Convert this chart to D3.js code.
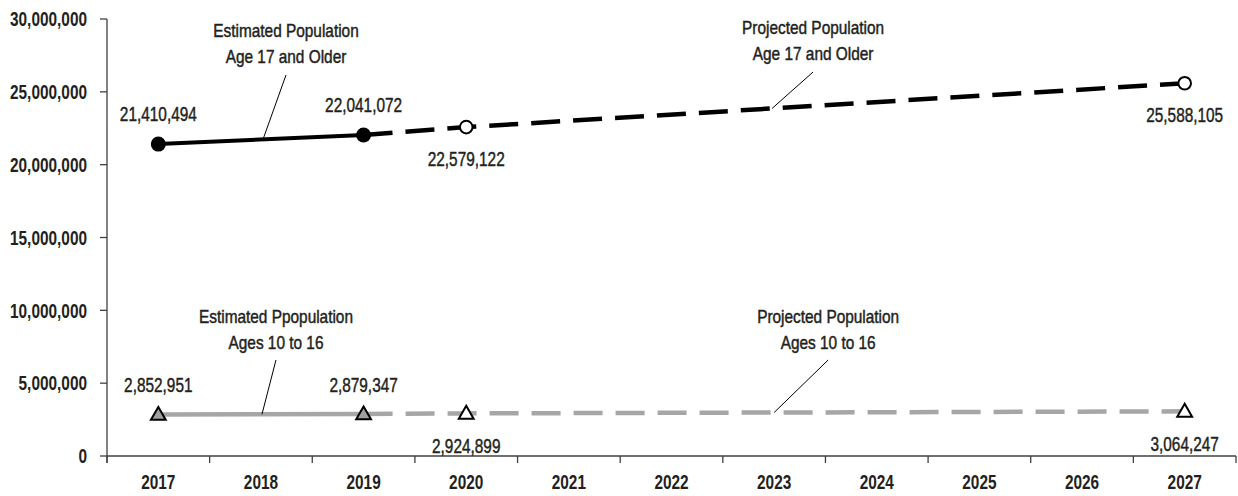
<!DOCTYPE html>
<html><head><meta charset="utf-8">
<script src="https://cdn.jsdelivr.net/npm/d3@7"></script>
<style>
html,body{margin:0;padding:0;background:#fff;}
svg{display:block;}
</style></head>
<body>
<svg id="chart" width="1238" height="496"></svg>
<script>
// ---- data ----
const years = ["2017","2018","2019","2020","2021","2022","2023","2024","2025","2026","2027"];
const yTicks = [0, 5000000, 10000000, 15000000, 20000000, 25000000, 30000000];

const estAdultYears = ["2017","2019"];
const estAdult = [21410494, 22041072];
const projAdultYears = ["2019","2020","2027"];
const projAdult = [22041072, 22579122, 25588105];

const estYouthYears = ["2017","2019"];
const estYouth = [2852951, 2879347];
const projYouthYears = ["2019","2020","2027"];
const projYouth = [2879347, 2924899, 3064247];

const annotationLines = [
  ["Estimated Population", "Age 17 and Older"],
  ["Projected Population", "Age 17 and Older"],
  ["Estimated Ppopulation", "Ages 10 to 16"],
  ["Projected Population", "Ages 10 to 16"]
];

// ---- font detection ----
function hasFont(name){
  const c = document.createElement("canvas").getContext("2d");
  const s = "0123456789,abcdefghijklmnop";
  c.font = "20px monospace"; const a = c.measureText(s).width;
  c.font = `20px "${name}", monospace`; const b = c.measureText(s).width;
  return Math.abs(a-b) > 0.5;
}
const narrow = hasFont("Liberation Sans Narrow");
const FONT = narrow ? '"Liberation Sans Narrow", "Liberation Sans", Arial, sans-serif' : '"Liberation Sans", Arial, sans-serif';
const K = narrow ? 1 / 0.82 : 1;   // narrow font is already condensed
const TXT = "#231f20";

const svg = d3.select("#chart");
const L = 107, R = 1236, T = 19, B = 456;

const x = d3.scaleBand().domain(years).range([L, R]).paddingInner(0).paddingOuter(0);
const bw = x.bandwidth();
const cx = d => x(d) + bw / 2;
const xi = i => L + (i + 0.5) * bw;   // fractional category position
const y = d3.scaleLinear().domain([0, 30000000]).range([B, T]);

function addText(g, px, py, str, size, weight, anchor, sx){
  const t = g.append("text")
    .attr("transform", `translate(${px},${py}) scale(${Math.min(1, sx * K)},1)`)
    .attr("text-anchor", anchor || "middle")
    .attr("font-family", FONT)
    .attr("font-size", size)
    .attr("font-weight", weight === "bold" ? "bold" : "normal")
    .attr("fill", TXT)
    .text(str);
  if (weight === "medium") t.attr("stroke", TXT).attr("stroke-width", 0.45);
  return t;
}

// ---- axes ----
const ax = svg.append("g").attr("stroke", "#404040").attr("stroke-width", 1.3).attr("fill", "none");
ax.append("line").attr("x1", L).attr("x2", L).attr("y1", T).attr("y2", B + 7);
ax.append("line").attr("x1", L).attr("x2", R).attr("y1", B).attr("y2", B);
yTicks.forEach(v => {
  ax.append("line").attr("x1", L - 7).attr("x2", L).attr("y1", y(v)).attr("y2", y(v));
});
const bounds = years.map(d => x(d)).concat([R]);
bounds.forEach(bx => {
  ax.append("line").attr("x1", bx).attr("x2", bx).attr("y1", B).attr("y2", B + 7);
});

const lab = svg.append("g");
const fmt = d3.format(",");
yTicks.forEach(v => addText(lab, 87, y(v) + 7.2, fmt(v), 20, "bold", "end", 0.77));
years.forEach(d => addText(lab, cx(d), 489, d, 20, "bold", "middle", 0.77));

// ---- lines ----
const lineGen = (ys, vs) => d3.line().x((d, i) => cx(ys[i])).y(d => y(d))(vs);

svg.append("path").attr("d", lineGen(estYouthYears, estYouth))
  .attr("fill", "none").attr("stroke", "#a6a6a6").attr("stroke-width", 4.5);
svg.append("path").attr("d", lineGen(projYouthYears, projYouth))
  .attr("fill", "none").attr("stroke", "#a6a6a6").attr("stroke-width", 4.5)
  .attr("stroke-dasharray", "29,13");

svg.append("path").attr("d", lineGen(estAdultYears, estAdult))
  .attr("fill", "none").attr("stroke", "#000").attr("stroke-width", 4);
svg.append("path").attr("d", lineGen(projAdultYears, projAdult))
  .attr("fill", "none").attr("stroke", "#000").attr("stroke-width", 4.5)
  .attr("stroke-dasharray", "29,13");

// ---- markers ----
const tri = d3.symbol().type(d3.symbolTriangle).size(95);
function triangles(ys, vs, fill){
  vs.forEach((v, i) => {
    svg.append("path").attr("d", tri())
      .attr("transform", `translate(${cx(ys[i])},${y(v) + 1})`)
      .attr("fill", fill).attr("stroke", "#000").attr("stroke-width", 2).attr("stroke-linejoin", "miter");
  });
}
triangles(projYouthYears.slice(1), projYouth.slice(1), "#fff");
triangles(estYouthYears, estYouth, "#a0a0a0");

estAdult.forEach((v, i) => {
  svg.append("circle").attr("cx", cx(estAdultYears[i])).attr("cy", y(v)).attr("r", 7.5).attr("fill", "#000");
});
projAdult.slice(1).forEach((v, i) => {
  svg.append("circle").attr("cx", cx(projAdultYears[i + 1])).attr("cy", y(v)).attr("r", 6.3)
    .attr("fill", "#fff").attr("stroke", "#000").attr("stroke-width", 2);
});

// ---- data labels ----
const dl = svg.append("g");
// above points
estAdult.forEach((v, i) => addText(dl, cx(estAdultYears[i]), y(v) - 23, fmt(v), 20, "medium", "middle", 0.77));
estYouth.forEach((v, i) => addText(dl, cx(estYouthYears[i]), y(v) - 22.5, fmt(v), 20, "medium", "middle", 0.77));
// below points
projAdult.slice(1).forEach((v, i) => addText(dl, cx(projAdultYears[i + 1]), y(v) + 39, fmt(v), 20, "medium", "middle", 0.77));
projYouth.slice(1).forEach((v, i) => addText(dl, cx(projYouthYears[i + 1]), y(v) + 40, fmt(v), 20, "medium", "middle", 0.77));

// ---- annotations ----
function interp(ys, vs, fi){
  const idx = ys.map(d => years.indexOf(d));
  for (let k = 0; k < idx.length - 1; k++){
    if (fi >= idx[k] && fi <= idx[k+1]){
      const t = (fi - idx[k]) / (idx[k+1] - idx[k]);
      return vs[k] + t * (vs[k+1] - vs[k]);
    }
  }
  return vs[vs.length - 1];
}
const anns = [
  {lines: annotationLines[0], at: 1.02, ys: estAdultYears, vs: estAdult, dx: 23, topY: 75, base: 37},
  {lines: annotationLines[1], at: 5.98, ys: projAdultYears, vs: projAdult, dx: 41, topY: 72, base: 34},
  {lines: annotationLines[2], at: 1.01, ys: estYouthYears, vs: estYouth, dx: 14, topY: 360, base: 323},
  {lines: annotationLines[3], at: 6.0, ys: projYouthYears, vs: projYouth, dx: 54, topY: 360, base: 323}
];
const ag = svg.append("g");
anns.forEach(a => {
  const ex = xi(a.at), ey = y(interp(a.ys, a.vs, a.at));
  const tx = ex + a.dx;
  ag.append("line").attr("x1", tx).attr("y1", a.topY).attr("x2", ex).attr("y2", ey)
    .attr("stroke", "#000").attr("stroke-width", 1);
  a.lines.forEach((s, k) => addText(ag, tx, a.base + k * 26, s, 17.5, "medium", "middle", 0.88));
});
</script>
</body></html>
